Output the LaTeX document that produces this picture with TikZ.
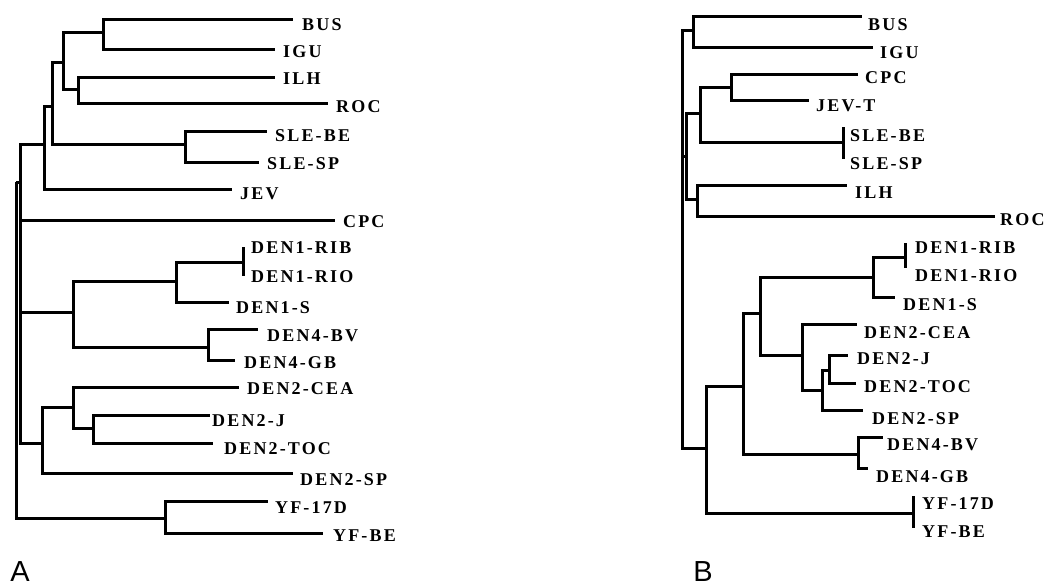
\documentclass[tikz,border=0pt]{standalone}
\usepackage{fontspec}
\setmainfont{Liberation Serif}
\newfontfamily\labfont[LetterSpace=12]{Liberation Serif Bold}
\newfontfamily\panelfont{Liberation Sans}
\begin{document}
\begin{tikzpicture}[x=1pt,y=-1pt,
  br/.style={line width=3pt},
  lab/.style={anchor=west, inner sep=0pt, font=\labfont\fontsize{18pt}{18pt}\selectfont, text height=12pt, text depth=0pt},
  panel/.style={inner sep=0pt, font=\panelfont\fontsize{29pt}{29pt}\selectfont}]
\useasboundingbox (0,0) rectangle (1047,587);
% ---------------- Tree A ----------------
\coordinate (aroot) at (16,182);
\coordinate (ain) at (20,182);
\coordinate (a44) at (44,144);
\coordinate (a52) at (52,106);
\coordinate (a63) at (63,62);
\coordinate (abi) at (103,32);
\coordinate (air) at (78,89);
\coordinate (asle) at (185,144);
\coordinate (ad14) at (73,312);
\coordinate (ad1) at (176,281);
\coordinate (arr) at (243,262);
\coordinate (ad4) at (208,347);
\coordinate (ad2) at (42,443);
\coordinate (acea) at (73,407);
\coordinate (ajt) at (93,428);
\coordinate (ayf) at (165,518);
\coordinate (aBUS) at (293,19);
\coordinate (aIGU) at (275,49);
\coordinate (aILH) at (275,77);
\coordinate (aROC) at (328,103);
\coordinate (aSLEBE) at (267,131);
\coordinate (aSLESP) at (259,162);
\coordinate (aJEV) at (232,189);
\coordinate (aCPC) at (335,220);
\coordinate (aRIB) at (243,247);
\coordinate (aRIO) at (243,276);
\coordinate (aDS) at (229,302);
\coordinate (aBV) at (258,329);
\coordinate (aGB) at (235,360);
\coordinate (aCEA) at (239,387);
\coordinate (aJ) at (210,415);
\coordinate (aTOC) at (213,443);
\coordinate (aSP) at (293,473);
\coordinate (a17D) at (268,501);
\coordinate (aYFBE) at (323,533);
\foreach \p/\c in {aroot/ain,aroot/ayf,ain/a44,ain/aCPC,ain/ad14,ain/ad2,
  a44/a52,a44/aJEV,a52/a63,a52/asle,a63/abi,a63/air,abi/aBUS,abi/aIGU,
  air/aILH,air/aROC,asle/aSLEBE,asle/aSLESP,ad14/ad1,ad14/ad4,ad1/arr,ad1/aDS,
  arr/aRIB,arr/aRIO,ad4/aBV,ad4/aGB,ad2/acea,ad2/aSP,acea/aCEA,acea/ajt,
  ajt/aJ,ajt/aTOC,ayf/a17D,ayf/aYFBE}
  \draw[br] (\p) |- (\c);
\node[lab] (laBUS) at (302,24) {BUS};
\node[lab] (laIGU) at (283,51) {IGU};
\node[lab] (laILH) at (283,78) {ILH};
\node[lab] (laROC) at (336,106) {ROC};
\node[lab] (laSLEBE) at (275,135) {SLE-BE};
\node[lab] (laSLESP) at (267,163) {SLE-SP};
\node[lab] (laJEV) at (240,193) {JEV};
\node[lab] (laCPC) at (343,221) {CPC};
\node[lab] (laRIB) at (251,247) {DEN1-RIB};
\node[lab] (laRIO) at (251,276) {DEN1-RIO};
\node[lab] (laDS) at (236,307) {DEN1-S};
\node[lab] (laBV) at (267,335) {DEN4-BV};
\node[lab] (laGB) at (244,362) {DEN4-GB};
\node[lab] (laCEA) at (247,388) {DEN2-CEA};
\node[lab] (laJ) at (212,420) {DEN2-J};
\node[lab] (laTOC) at (224,448) {DEN2-TOC};
\node[lab] (laSP) at (300,479) {DEN2-SP};
\node[lab] (la17D) at (275,507) {YF-17D};
\node[lab] (laYFBE) at (333,535) {YF-BE};
\node[panel] (pA) at (20,572) {A};
% ---------------- Tree B ----------------
\coordinate (broot) at (682,156);
\coordinate (bin) at (686,156);
\coordinate (bbi) at (693,30);
\coordinate (bcjs) at (700,113);
\coordinate (bcj) at (731,87);
\coordinate (bsle) at (843,142);
\coordinate (bir) at (697,199);
\coordinate (bdy) at (706,448);
\coordinate (bden) at (743,386);
\coordinate (byf) at (913,513);
\coordinate (bd4) at (858,454);
\coordinate (bd12) at (760,313);
\coordinate (bd1) at (873,277);
\coordinate (brr) at (905,257);
\coordinate (bd2) at (802,355);
\coordinate (bjts) at (822,390);
\coordinate (bjt) at (829,370);
\coordinate (bBUS) at (862,16);
\coordinate (bIGU) at (873,47);
\coordinate (bCPC) at (858,74);
\coordinate (bJEVT) at (809,100);
\coordinate (bSLEBE) at (843,127);
\coordinate (bSLESP) at (843,159);
\coordinate (bILH) at (847,185);
\coordinate (bROC) at (995,216);
\coordinate (bRIB) at (905,243);
\coordinate (bRIO) at (905,268);
\coordinate (bDS) at (895,297);
\coordinate (bCEA) at (857,324);
\coordinate (bJ) at (848,355);
\coordinate (bTOC) at (856,383);
\coordinate (bSP) at (863,410);
\coordinate (bBV) at (883,437);
\coordinate (bGB) at (868,468);
\coordinate (b17D) at (913,496);
\coordinate (bYFBE) at (913,528);
\foreach \p/\c in {broot/bin,broot/bbi,broot/bdy,bin/bcjs,bin/bir,
  bcjs/bcj,bcjs/bsle,bcj/bCPC,bcj/bJEVT,bsle/bSLEBE,bsle/bSLESP,
  bir/bILH,bir/bROC,bbi/bBUS,bbi/bIGU,bdy/bden,bdy/byf,byf/b17D,byf/bYFBE,
  bden/bd12,bden/bd4,bd4/bBV,bd4/bGB,bd12/bd1,bd12/bd2,bd1/brr,bd1/bDS,
  brr/bRIB,brr/bRIO,bd2/bCEA,bd2/bjts,bjts/bjt,bjts/bSP,bjt/bJ,bjt/bTOC}
  \draw[br] (\p) |- (\c);
\node[lab] (lbBUS) at (868,24) {BUS};
\node[lab] (lbIGU) at (880,52) {IGU};
\node[lab] (lbCPC) at (865,77) {CPC};
\node[lab] (lbJEVT) at (816,105) {JEV-T};
\node[lab] (lbSLEBE) at (850,135) {SLE-BE};
\node[lab] (lbSLESP) at (850,163) {SLE-SP};
\node[lab] (lbILH) at (855,192) {ILH};
\node[lab] (lbROC) at (1000,219) {ROC};
\node[lab] (lbRIB) at (915,247) {DEN1-RIB};
\node[lab] (lbRIO) at (915,275) {DEN1-RIO};
\node[lab] (lbDS) at (903,304) {DEN1-S};
\node[lab] (lbCEA) at (864,332) {DEN2-CEA};
\node[lab] (lbJ) at (857,358) {DEN2-J};
\node[lab] (lbTOC) at (864,386) {DEN2-TOC};
\node[lab] (lbSP) at (872,418) {DEN2-SP};
\node[lab] (lbBV) at (887,444) {DEN4-BV};
\node[lab] (lbGB) at (876,476) {DEN4-GB};
\node[lab] (lb17D) at (922,503) {YF-17D};
\node[lab] (lbYFBE) at (922,531) {YF-BE};
\node[panel] (pB) at (703,572) {B};
\end{tikzpicture}
\end{document}
